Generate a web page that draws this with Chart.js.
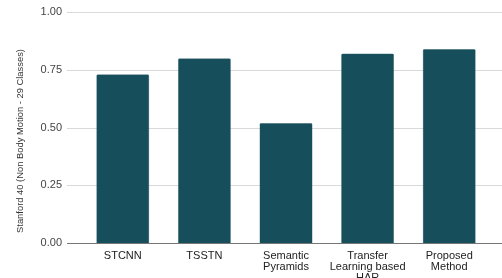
<!DOCTYPE html>
<html>
<head>
<meta charset="utf-8">
<script src="https://cdn.jsdelivr.net/npm/chart.js@4/dist/chart.umd.min.js"></script>
<style>
  html, body { margin: 0; padding: 0; background: #fff; }
  #wrap { width: 502px; height: 278px; }
</style>
</head>
<body>
<div id="wrap"><canvas id="myChart" width="502" height="278"></canvas></div>
<script>
// values
var methods = [["STCNN"], ["TSSTN"], ["Semantic", "Pyramids"], ["Transfer", "Learning based", "HAR"], ["Proposed", "Method"]];
var accuracy = [0.73, 0.80, 0.52, 0.82, 0.84];
var yTicks = [0, 0.25, 0.5, 0.75, 1];
var yTitle = "Stanford 40 (Non Body Motion - 29 Classes)";

Chart.defaults.font.family = "'Liberation Sans', Arial, sans-serif";
Chart.defaults.font.size = 11;

// horizontal gridlines run wider than the plot area, like the original
var wideGrid = {
	id: "wideGrid",
	beforeDatasetsDraw: function (chart) {
		var ctx = chart.ctx;
		var y = chart.scales.y;
		ctx.save();
		yTicks.forEach(function (v) {
			var py = Math.round(y.getPixelForValue(v)) + 0.5;
			ctx.beginPath();
			ctx.strokeStyle = v === 0 ? "#777" : "#d9d9d9";
			ctx.lineWidth = v === 0 ? 1.2 : 1;
			ctx.moveTo(67, py);
			ctx.lineTo(502, py);
			ctx.stroke();
		});
		ctx.restore();
	},
};

// axis title sits a bit lower than the plot centre in the original
var sideTitle = {
	id: "sideTitle",
	afterDraw: function (chart) {
		var ctx = chart.ctx;
		ctx.save();
		ctx.translate(20, 141);
		ctx.rotate(-Math.PI / 2);
		ctx.font = "9.4px 'Liberation Sans', Arial, sans-serif";
		ctx.fillStyle = "#333";
		ctx.textAlign = "center";
		ctx.textBaseline = "middle";
		ctx.fillText(yTitle, 0, 0);
		ctx.restore();
	},
};

var ctx = document.getElementById("myChart");
var chart = new Chart(ctx, {
	type: "bar",
	data: {
		labels: methods,
		datasets: [
			{
				label: "Stanford 40",
				data: accuracy,
				backgroundColor: "#174e5b",
				borderColor: "#4a7580",
				borderWidth: 0.5,
				borderRadius: 1.5,
				categoryPercentage: 1,
				barPercentage: 0.65,
			},
		],
	},
	options: {
		responsive: false,
		animation: false,
		layout: { padding: { top: 12, right: 12, left: 0, bottom: 0 } },
		plugins: {
			legend: { display: false },
			tooltip: { enabled: false },
		},
		scales: {
			x: {
				grid: { display: false, drawTicks: false },
				border: { display: false },
				ticks: { color: "#222", padding: 7, maxRotation: 0, autoSkip: false, font: { lineHeight: 1.0 } },
				afterFit: function (s) { s.height = 35; },
			},
			y: {
				min: 0,
				max: 1,
				afterBuildTicks: function (s) {
					s.ticks = yTicks.map(function (v) { return { value: v }; });
				},
				grid: { display: false, drawTicks: false },
				border: { display: false },
				ticks: {
					color: "#444",
					padding: 20,
					callback: function (v) { return v.toFixed(2); },
				},
				afterFit: function (s) {
					s.width = 82;
					s.paddingTop = 0;
					s.paddingBottom = 0;
				},
			},
		},
	},
	plugins: [wideGrid, sideTitle],
});
</script>
</body>
</html>
